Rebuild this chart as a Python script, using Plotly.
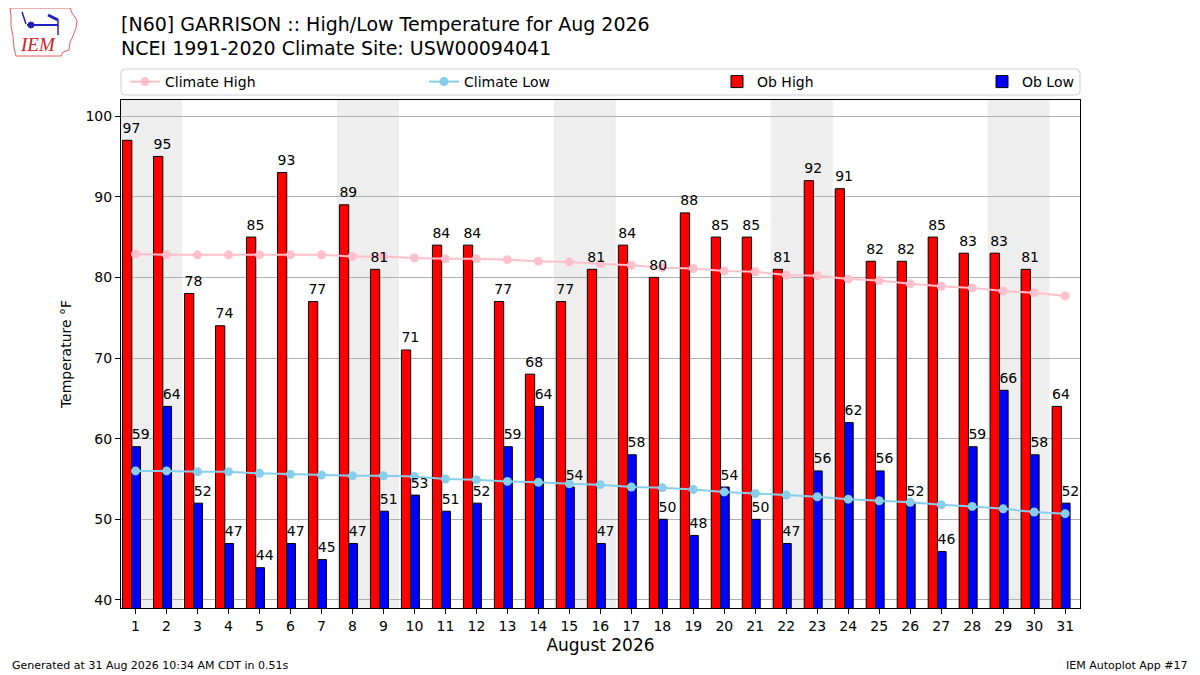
import datetime
import plotly.graph_objects as go

# ---- data ----
days = list(range(1, 32))
ob_high = [97, 95, 78, 74, 85, 93, 77, 89, 81, 71, 84, 84, 77, 68, 77, 81,
           84, 80, 88, 85, 85, 81, 92, 91, 82, 82, 85, 83, 83, 81, 64]
ob_low = [59, 64, 52, 47, 44, 47, 45, 47, 51, 53, 51, 52, 59, 64, 54, 47,
          58, 50, 48, 54, 50, 47, 56, 62, 56, 52, 46, 59, 66, 58, 52]
clim_high = [82.9, 82.8, 82.8, 82.8, 82.8, 82.8, 82.8, 82.6, 82.6, 82.4, 82.3,
             82.3, 82.2, 82.0, 81.9, 81.7, 81.5, 81.2, 81.1, 80.8, 80.7, 80.3,
             80.2, 79.8, 79.6, 79.2, 78.9, 78.7, 78.3, 78.1, 77.7]
clim_low = [56.0, 56.0, 55.9, 55.9, 55.7, 55.6, 55.5, 55.4, 55.4, 55.3, 55.0,
            54.9, 54.7, 54.6, 54.4, 54.3, 54.0, 53.9, 53.7, 53.4, 53.2, 53.0,
            52.8, 52.5, 52.3, 52.1, 51.8, 51.6, 51.3, 50.9, 50.7]
year, month = 2026, 8
x_ticks = list(range(1, 32))
y_ticks = [40, 50, 60, 70, 80, 90, 100]

title1 = "[N60] GARRISON :: High/Low Temperature for Aug 2026"
title2 = "NCEI 1991-2020 Climate Site: USW00094041"
footer_left = "Generated at 31 Aug 2026 10:34 AM CDT in 0.51s"
footer_right = "IEM Autoplot App #17"

FONT = "DejaVu Sans"
OFF = 8  # page body margin
W, H = 1200 - OFF, 675 - OFF
L, T = 121 - OFF, 100 - OFF
PW, PH = 959, 508
R, B = W - L - PW, H - T - PH
HI_OFF, HI_W = -0.42, 0.30
LO_OFF, LO_W = -0.12, 0.28
LABEL_PAD = 0.5  # label gap above bar, in degrees


def px(xp):
    return (xp - OFF - L) / PW


def py(yp):
    return (T + PH - (yp - OFF)) / PH


fig = go.Figure()

fig.add_trace(go.Bar(
    x=days, y=ob_high, name="Ob High", offset=HI_OFF, width=HI_W,
    marker=dict(color="red", line=dict(color="black", width=1)),
    legend="legend3", showlegend=True,
))
fig.add_trace(go.Bar(
    x=days, y=ob_low, name="Ob Low", offset=LO_OFF, width=LO_W,
    marker=dict(color="blue", line=dict(color="black", width=1)),
    legend="legend4", showlegend=True,
))
fig.add_trace(go.Scatter(
    x=days, y=clim_high, name="Climate High", mode="lines+markers",
    line=dict(color="pink", width=2), marker=dict(color="pink", size=9),
    legend="legend", showlegend=True,
))
fig.add_trace(go.Scatter(
    x=days, y=clim_low, name="Climate Low", mode="lines+markers",
    line=dict(color="skyblue", width=2), marker=dict(color="skyblue", size=9),
    legend="legend2", showlegend=True,
))
# value labels, left-aligned at each bar's left edge
for vals, off in ((ob_high, HI_OFF), (ob_low, LO_OFF)):
    fig.add_trace(go.Scatter(
        x=[d + off for d in days], y=[v + LABEL_PAD for v in vals],
        mode="text", text=[str(v) for v in vals], textposition="top right",
        textfont=dict(family=FONT, size=14, color="black"),
        showlegend=False, cliponaxis=False, hoverinfo="skip",
    ))

shapes = []
# weekend shading
for d in days:
    if datetime.date(year, month, d).weekday() == 5:
        shapes.append(dict(type="rect", xref="x", yref="paper",
                           x0=d - 0.5, x1=d + 1.5, y0=0, y1=1,
                           fillcolor="#eeeeee", line=dict(width=0),
                           layer="below"))

# legend frame (rounded)
lx0, lx1, ly0, ly1, rr = px(121), px(1080), py(95), py(69), 4
rx, ry = rr / PW, rr / PH
path = (f"M {lx0+rx},{ly1} L {lx1-rx},{ly1} Q {lx1},{ly1} {lx1},{ly1-ry} "
        f"L {lx1},{ly0+ry} Q {lx1},{ly0} {lx1-rx},{ly0} L {lx0+rx},{ly0} "
        f"Q {lx0},{ly0} {lx0},{ly0+ry} L {lx0},{ly1-ry} Q {lx0},{ly1} {lx0+rx},{ly1} Z")
shapes.append(dict(type="path", xref="paper", yref="paper", path=path,
                   line=dict(color="#d0d0d0", width=1), fillcolor="white"))

# simplified IEM logo outline
logo_pts = [(10, 8), (70, 8), (72, 13), (77, 20), (76, 28), (73, 36), (70, 42),
            (69, 50), (63, 52), (61, 56), (16, 56), (14, 48), (13, 36),
            (11, 26), (11, 16)]
lp = "M " + " L ".join(f"{px(a)},{py(b)}" for a, b in logo_pts) + " Z"
shapes.append(dict(type="path", xref="paper", yref="paper", path=lp,
                   line=dict(color="#e06060", width=1)))
shapes.append(dict(type="line", xref="paper", yref="paper",
                   x0=px(27), x1=px(58), y0=py(25), y1=py(25),
                   line=dict(color="#2020c0", width=2)))
shapes.append(dict(type="circle", xref="paper", yref="paper",
                   x0=px(28), x1=px(34), y0=py(28), y1=py(22),
                   fillcolor="#2020c0", line=dict(color="#2020c0", width=1)))
shapes.append(dict(type="line", xref="paper", yref="paper",
                   x0=px(48), x1=px(58), y0=py(15), y1=py(20),
                   line=dict(color="#2020c0", width=3)))
shapes.append(dict(type="line", xref="paper", yref="paper",
                   x0=px(58), x1=px(58), y0=py(20), y1=py(35),
                   line=dict(color="#2020c0", width=1.5)))
shapes.append(dict(type="line", xref="paper", yref="paper",
                   x0=px(22), x1=px(26), y0=py(12), y1=py(24),
                   line=dict(color="#2020c0", width=1.5)))

annotations = [
    dict(text=title1, xref="paper", yref="paper", x=px(119), y=py(24),
         xanchor="left", yanchor="middle", showarrow=False,
         font=dict(family=FONT, size=19, color="black")),
    dict(text=title2, xref="paper", yref="paper", x=px(119), y=py(48),
         xanchor="left", yanchor="middle", showarrow=False,
         font=dict(family=FONT, size=19, color="black")),
    dict(text=footer_left, xref="paper", yref="paper", x=px(10), y=py(665),
         xanchor="left", yanchor="middle", showarrow=False,
         font=dict(family=FONT, size=11, color="black")),
    dict(text=footer_right, xref="paper", yref="paper", x=px(1190), y=py(665),
         xanchor="right", yanchor="middle", showarrow=False,
         font=dict(family=FONT, size=11, color="black")),
    dict(text="<i>IEM</i>", xref="paper", yref="paper", x=px(38), y=py(45),
         xanchor="center", yanchor="middle", showarrow=False,
         font=dict(family="Liberation Serif", size=19, color="#d02020")),
]

leg_common = dict(orientation="h", yanchor="middle", xanchor="left",
                  bgcolor="rgba(0,0,0,0)", borderwidth=0,
                  font=dict(family=FONT, size=14, color="black"),
                  itemwidth=30, visible=True)
fig.update_layout(
    width=W, height=H,
    margin=dict(l=L, r=R, t=T, b=B),
    paper_bgcolor="white", plot_bgcolor="white",
    barmode="overlay", showlegend=True,
    font=dict(family=FONT, size=14, color="black"),
    shapes=shapes, annotations=annotations,
    legend=dict(x=px(125), y=py(82), **leg_common),
    legend2=dict(x=px(424), y=py(82), **leg_common),
    legend3=dict(x=px(717), y=py(82), **leg_common),
    legend4=dict(x=px(982), y=py(82), **leg_common),
    xaxis=dict(range=[0.53, 31.48], tickmode="array", tickvals=x_ticks,
               ticktext=[str(t) for t in x_ticks], ticks="outside", ticklen=5,
               tickcolor="black", showline=True, linecolor="black",
               linewidth=1, mirror=True, showgrid=False, zeroline=False,
               tickfont=dict(family=FONT, size=14),
               title=dict(text="August 2026", font=dict(family=FONT, size=17),
                          standoff=6)),
    yaxis=dict(range=[39, 102], tickmode="array", tickvals=y_ticks,
               ticks="outside", ticklen=5, tickcolor="black", showline=True,
               linecolor="black", linewidth=1, mirror=True, showgrid=True,
               gridcolor="#b0b0b0", gridwidth=1, zeroline=False,
               tickfont=dict(family=FONT, size=14),
               title=dict(text="Temperature °F", font=dict(family=FONT, size=14),
                          standoff=10)),
)

fig.write_html("out.html")
